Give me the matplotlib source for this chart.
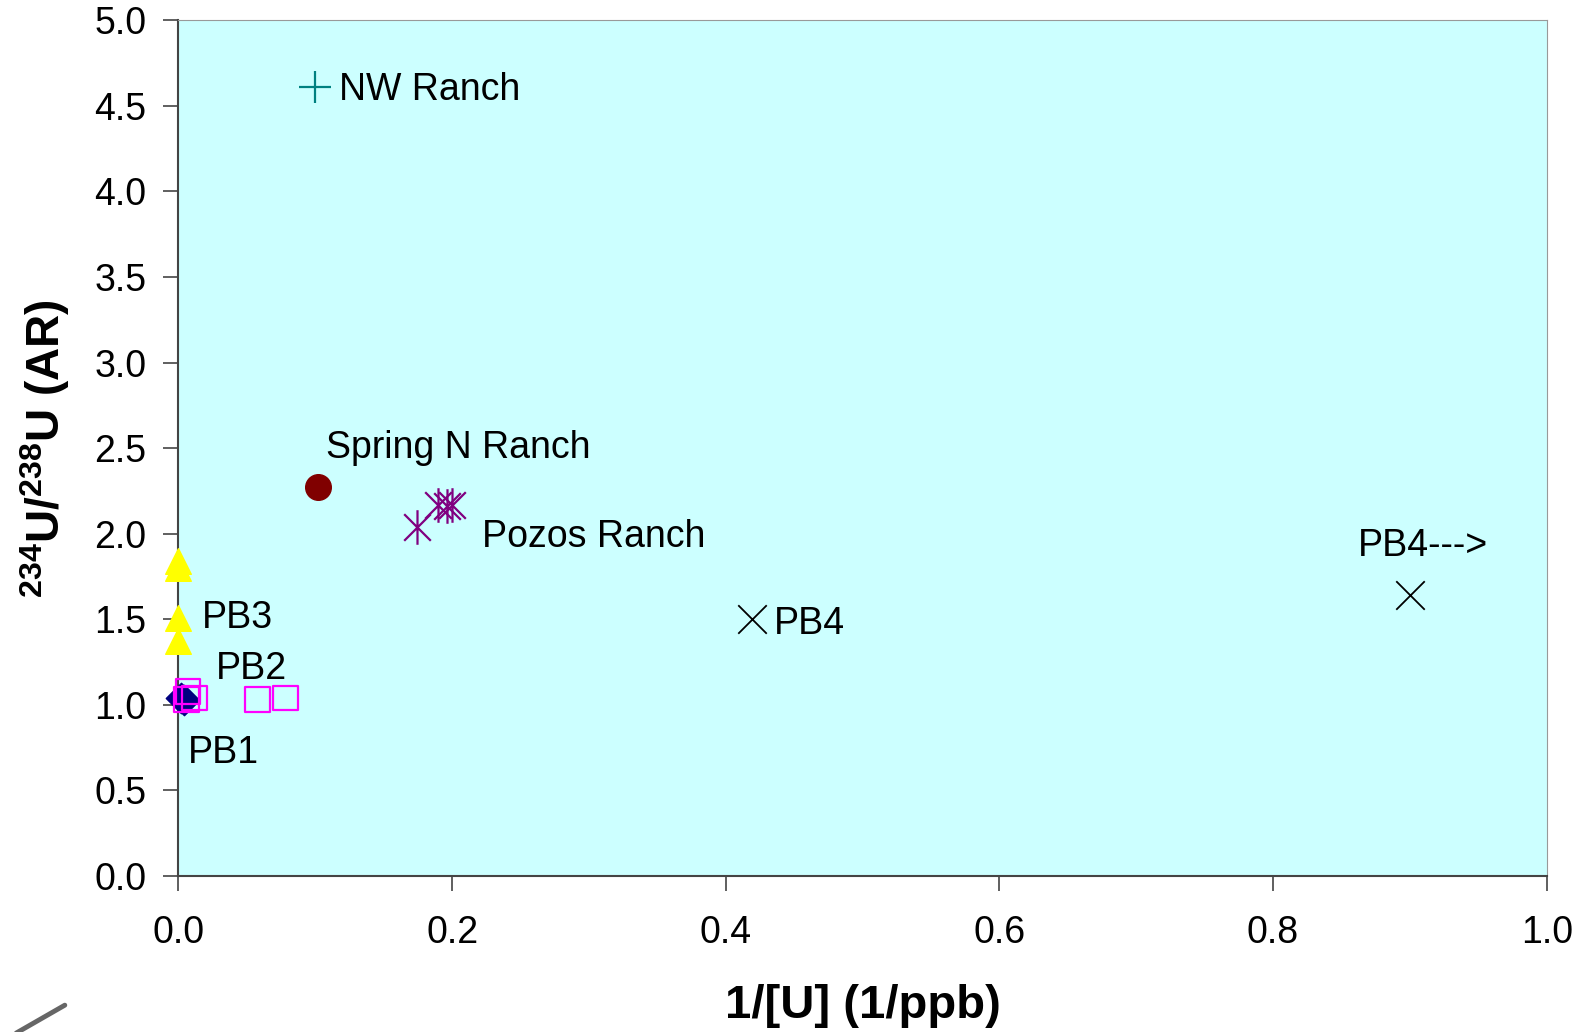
import matplotlib
matplotlib.use("Agg")
import matplotlib.pyplot as plt
from matplotlib.lines import Line2D
from matplotlib.path import Path

plt.rcParams['font.family'] = ['Liberation Sans', 'DejaVu Sans']
plt.rcParams['mathtext.fontset'] = 'custom'
plt.rcParams['mathtext.rm'] = 'Liberation Sans:bold'
plt.rcParams['mathtext.it'] = 'Liberation Sans:bold'
plt.rcParams['mathtext.bf'] = 'Liberation Sans:bold'

# data: 1/[U] (1/ppb) vs 234U/238U activity ratio
pb1_x = [0.002, 0.004]
pb1_y = [1.04, 1.03]

pb2_x = [0.007, 0.006, 0.012, 0.058, 0.078]
pb2_y = [1.08, 1.03, 1.04, 1.03, 1.04]

pb3_x = [0.0, 0.0, 0.0, 0.0]
pb3_y = [1.84, 1.80, 1.51, 1.37]

pb4_x = [0.419, 0.90]
pb4_y = [1.50, 1.64]

pozos_x = [0.174, 0.190, 0.196, 0.200]
pozos_y = [2.04, 2.17, 2.16, 2.17]

spring_x = [0.102]
spring_y = [2.27]

nw_x = [0.10]
nw_y = [4.61]

x_ticks = [0.0, 0.2, 0.4, 0.6, 0.8, 1.0]
y_ticks = [0.0, 0.5, 1.0, 1.5, 2.0, 2.5, 3.0, 3.5, 4.0, 4.5, 5.0]

# excel style asterisk: an x with a vertical bar through it
star = Path([(-1, -1), (1, 1), (-1, 1), (1, -1), (0, -1.3), (0, 1.3)],
            [Path.MOVETO, Path.LINETO, Path.MOVETO, Path.LINETO, Path.MOVETO, Path.LINETO])

fig = plt.figure(figsize=(15.81, 10.32), dpi=100)
ax = fig.add_axes([0.1129, 0.1512, 0.8654, 0.8292])
ax.set_facecolor('#ccffff')

ax.scatter(pb3_x, pb3_y, marker='^', s=340, color='#ffff00', zorder=3, clip_on=False)
ax.scatter(pb1_x, pb1_y, marker='D', s=240, color='#000080', zorder=3, clip_on=False)
ax.scatter(pb2_x, pb2_y, marker='s', s=320, facecolors='none', edgecolors='#ff00ff',
           linewidths=1.6, zorder=4, clip_on=False)
ax.scatter(pb4_x, pb4_y, marker='x', s=420, color='black', linewidths=1.3, zorder=3)
ax.scatter(pozos_x, pozos_y, marker=star, s=620, color='#800080', linewidths=1.6, zorder=3)
ax.scatter(spring_x, spring_y, marker='o', s=340, color='#800000', zorder=3)
ax.scatter(nw_x, nw_y, marker='+', s=520, color='#008080', linewidths=1.6, zorder=3)

fs = 27
ax.text(0.117, 4.59, 'NW Ranch', fontsize=fs, va='center', ha='left')
ax.text(0.108, 2.5, 'Spring N Ranch', fontsize=fs, va='center', ha='left')
ax.text(0.222, 1.98, 'Pozos Ranch', fontsize=fs, va='center', ha='left')
ax.text(0.435, 1.47, 'PB4', fontsize=fs, va='center', ha='left')
ax.text(0.862, 1.93, 'PB4--->', fontsize=fs, va='center', ha='left')
ax.text(0.017, 1.51, 'PB3', fontsize=fs, va='center', ha='left')
ax.text(0.027, 1.21, 'PB2', fontsize=fs, va='center', ha='left')
ax.text(0.007, 0.72, 'PB1', fontsize=fs, va='center', ha='left')

ax.set_xlim(0, 1.0)
ax.set_ylim(0, 5.0)
ax.set_xticks(x_ticks)
ax.set_yticks(y_ticks)
ax.set_xticklabels([f'{t:.1f}' for t in x_ticks])
ax.set_yticklabels([f'{t:.1f}' for t in y_ticks])
ax.tick_params(axis='both', labelsize=27, length=11, width=1.2, color='#444444',
               direction='out')
ax.tick_params(axis='x', pad=17)
ax.tick_params(axis='y', pad=12)

ax.spines['left'].set_color('#444444')
ax.spines['bottom'].set_color('#444444')
ax.spines['left'].set_linewidth(1.5)
ax.spines['bottom'].set_linewidth(1.5)
ax.spines['top'].set_color('#999999')
ax.spines['right'].set_color('#999999')

ax.set_xlabel('1/[U] (1/ppb)', fontsize=34, fontweight='bold', labelpad=24)
ax.set_ylabel(r'$^{234}$U/$^{238}$U (AR)', fontsize=33, fontweight='bold', labelpad=16)

# stray grey stroke at the bottom-left corner of the original
fig.add_artist(Line2D([0.008, 0.041], [-0.003, 0.026], color='#666666', lw=3.5,
                      solid_capstyle='round', transform=fig.transFigure))

fig.savefig('out.png', dpi=100)
